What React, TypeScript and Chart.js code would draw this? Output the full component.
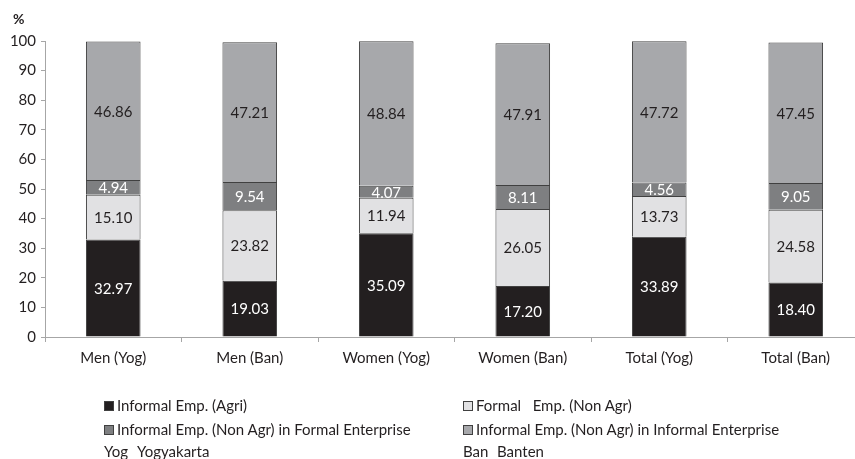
import React, { useEffect, useRef } from "react";
import { Chart, registerables } from "chart.js";

Chart.register(...registerables);

const categories = ["Men (Yog)", "Men (Ban)", "Women (Yog)", "Women (Ban)", "Total (Yog)", "Total (Ban)"];
const informalAgri = [32.97, 19.03, 35.09, 17.2, 33.89, 18.4];
const formalNonAgr = [15.1, 23.82, 11.94, 26.05, 13.73, 24.58];
const informalInFormal = [4.94, 9.54, 4.07, 8.11, 4.56, 9.05];
const informalInInformal = [46.86, 47.21, 48.84, 47.91, 47.72, 47.45];
const yTicks = [0, 10, 20, 30, 40, 50, 60, 70, 80, 90, 100];

const FONT = "Lato, 'Open Sans', sans-serif";
const TEXT = "#231f20";
const EDGE = "#404040";
const SIZE = 15;

const series = [
  { label: "Informal Emp. (Agri)", data: informalAgri, color: "#231f20", text: "#ffffff" },
  { label: "Formal   Emp. (Non Agr)", data: formalNonAgr, color: "#e1e1e3", text: TEXT },
  { label: "Informal Emp. (Non Agr) in Formal Enterprise", data: informalInFormal, color: "#7e7f81", text: "#ffffff" },
  { label: "Informal Emp. (Non Agr) in Informal Enterprise", data: informalInInformal, color: "#a7a8ab", text: TEXT },
];

// Writes each segment's value in the middle of its bar piece
const valueLabels = {
  id: "valueLabels",
  afterDatasetsDraw(chart: any) {
    const ctx = chart.ctx;
    ctx.save();
    ctx.font = `${SIZE}px ${FONT}`;
    ctx.textAlign = "center";
    ctx.textBaseline = "middle";
    chart.data.datasets.forEach((ds: any, i: number) => {
      const meta = chart.getDatasetMeta(i);
      ctx.fillStyle = series[i].text;
      meta.data.forEach((bar: any, j: number) => {
        const { x, y, base } = bar.getProps(["x", "y", "base"], true);
        ctx.fillText(Number(ds.data[j]).toFixed(2), x, (y + base) / 2 + 1);
      });
    });
    ctx.restore();
  },
};

function Swatch({ color }: { color: string }) {
  return (
    <span
      style={{
        display: "inline-block",
        width: 8,
        height: 8,
        background: color,
        border: `1px solid ${EDGE}`,
        marginRight: 3,
        verticalAlign: "0px",
      }}
    />
  );
}

export default function App() {
  const ref = useRef<HTMLCanvasElement | null>(null);

  useEffect(() => {
    if (!ref.current) return;
    const chart = new Chart(ref.current, {
      type: "bar",
      data: {
        labels: categories,
        datasets: series.map((s) => ({
          label: s.label,
          data: s.data,
          backgroundColor: s.color,
          borderColor: EDGE,
          borderWidth: 1,
          borderSkipped: "start",
          categoryPercentage: 1,
          barPercentage: 0.4,
        })),
      },
      options: {
        responsive: false,
        animation: false,
        devicePixelRatio: 1,
        layout: { padding: { top: 41, left: 0, right: 2, bottom: 0 } },
        plugins: { legend: { display: false }, tooltip: { enabled: false } },
        scales: {
          x: {
            stacked: true,
            afterFit: (s: any) => {
              s.height = 122;
            },
            grid: { drawOnChartArea: false, drawTicks: true, tickLength: 5, color: "#a6a6a6", offset: true },
            border: { color: "#a6a6a6", width: 1 },
            ticks: { color: TEXT, font: { family: FONT, size: SIZE }, padding: 7, maxRotation: 0 },
          },
          y: {
            stacked: true,
            min: 0,
            max: 100,
            afterFit: (s: any) => {
              s.width = 45;
            },
            afterBuildTicks: (s: any) => {
              s.ticks = yTicks.map((v) => ({ value: v }));
            },
            grid: { drawOnChartArea: false, drawTicks: true, tickLength: 4, color: "#a6a6a6" },
            border: { color: "#a6a6a6", width: 1 },
            ticks: { color: TEXT, font: { family: FONT, size: SIZE }, padding: 5 },
          },
        },
      },
      plugins: [valueLabels],
    });
    return () => chart.destroy();
  }, []);

  const textStyle: React.CSSProperties = {
    position: "absolute",
    fontFamily: FONT,
    fontSize: SIZE,
    lineHeight: "18px",
    color: TEXT,
    whiteSpace: "pre",
  };

  return (
    <div
      style={{
        position: "fixed",
        left: 0,
        top: 0,
        width: 855,
        height: 459,
        overflow: "hidden",
        background: "#ffffff",
      }}
    >
      <canvas ref={ref} width={866} height={459} style={{ display: "block", width: 866, height: 459 }} />
      <div style={{ ...textStyle, left: 13, top: 10, fontWeight: 700, fontSize: 14 }}>%</div>
      <div style={{ ...textStyle, left: 104, top: 396 }}>
        <Swatch color={series[0].color} />
        {series[0].label}
      </div>
      <div style={{ ...textStyle, left: 463, top: 396 }}>
        <Swatch color={series[1].color} />
        {series[1].label}
      </div>
      <div style={{ ...textStyle, left: 104, top: 420 }}>
        <Swatch color={series[2].color} />
        {series[2].label}
      </div>
      <div style={{ ...textStyle, left: 463, top: 420 }}>
        <Swatch color={series[3].color} />
        {series[3].label}
      </div>
      <div style={{ ...textStyle, left: 104, top: 442 }}>Yog</div>
      <div style={{ ...textStyle, left: 137, top: 442 }}>Yogyakarta</div>
      <div style={{ ...textStyle, left: 463, top: 442 }}>Ban</div>
      <div style={{ ...textStyle, left: 497, top: 442 }}>Banten</div>
    </div>
  );
}
